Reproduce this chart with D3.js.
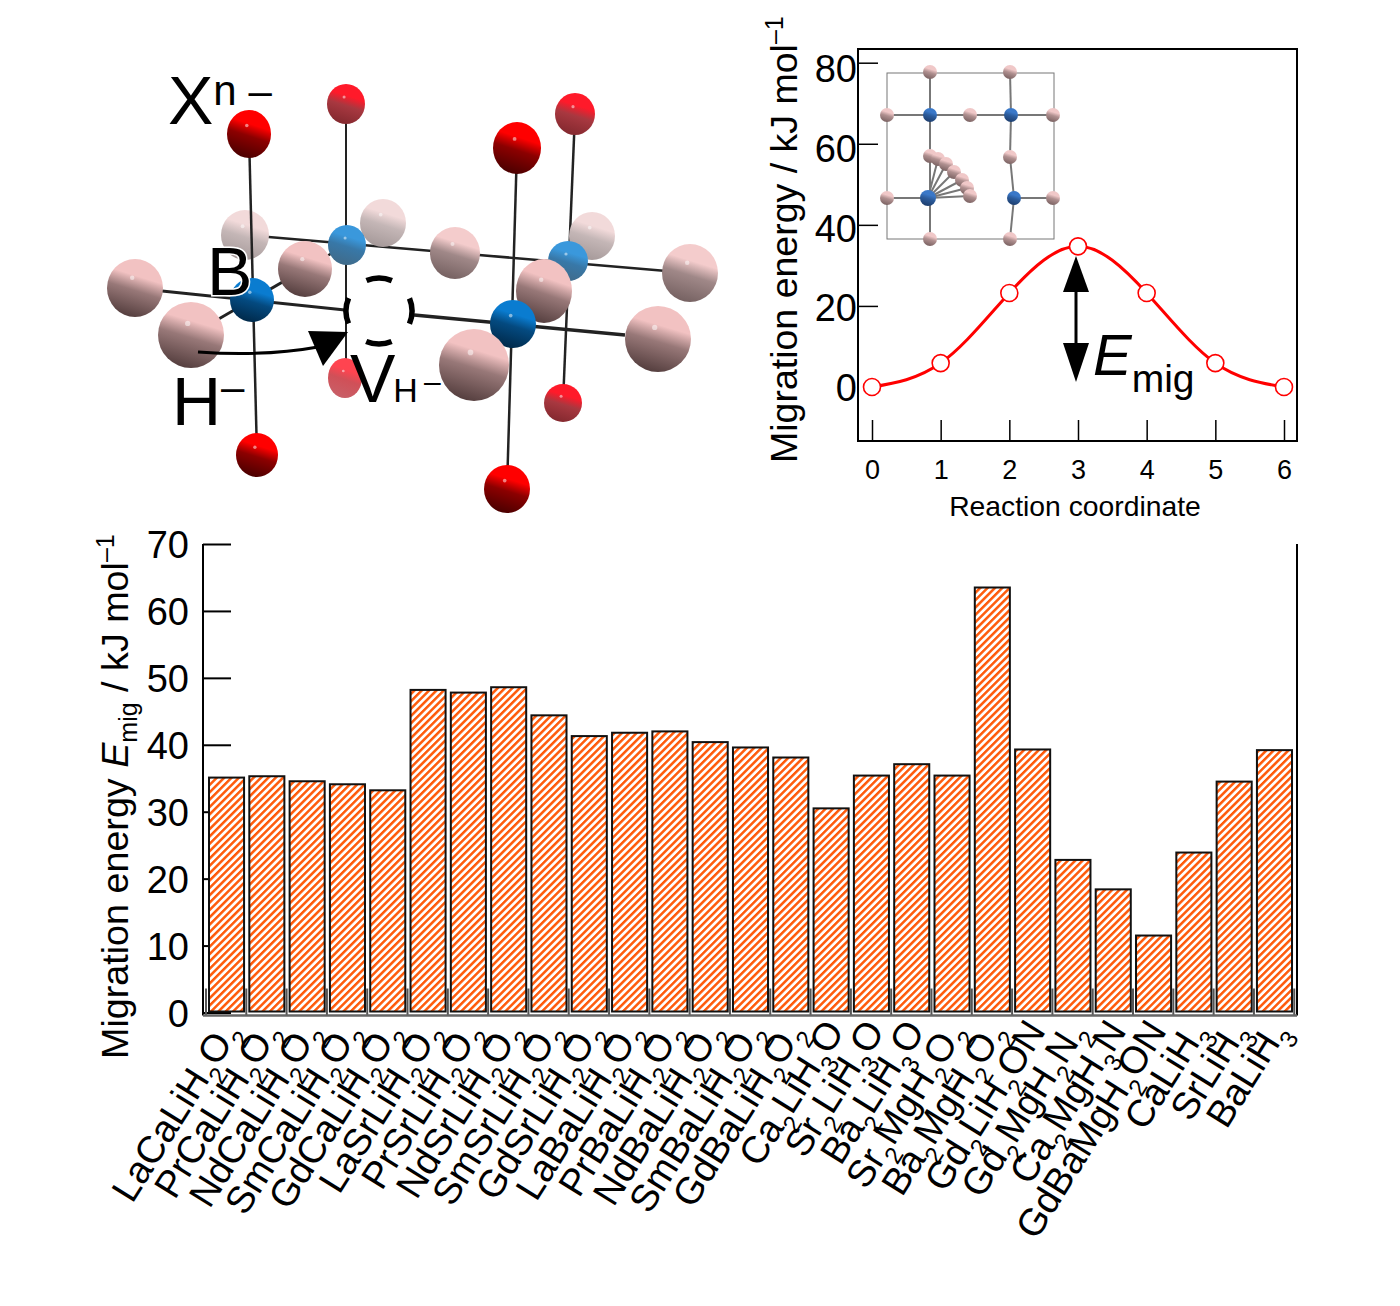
<!doctype html>
<html>
<head>
<meta charset="utf-8">
<title>Hydride migration energy</title>
<script src="https://d3js.org/d3.v7.min.js"></script>
<style>
  html, body { margin: 0; background: #fff; }
  svg { display: block; }
  text { font-family: "Liberation Sans", Arial, sans-serif; fill: #000; }
</style>
</head>
<body>
<div id="vis"></div>
<script>
// bar chart data
var compounds = ["LaCaLiH2O2","PrCaLiH2O2","NdCaLiH2O2","SmCaLiH2O2","GdCaLiH2O2",
  "LaSrLiH2O2","PrSrLiH2O2","NdSrLiH2O2","SmSrLiH2O2","GdSrLiH2O2",
  "LaBaLiH2O2","PrBaLiH2O2","NdBaLiH2O2","SmBaLiH2O2","GdBaLiH2O2",
  "Ca2LiH3O","Sr2LiH3O","Ba2LiH3O","Sr2MgH2O2","Ba2MgH2O2","Gd2LiH2ON",
  "Gd2MgH2N2","Ca2MgH3N","GdBaMgH2ON","CaLiH3","SrLiH3","BaLiH3"];
var migrationEnergy = [35.1,35.3,34.55,34.1,33.2,48.2,47.8,48.6,44.4,41.3,41.8,42,40.4,39.6,38.1,
  30.5,35.4,37.1,35.4,63.5,39.3,22.8,18.4,11.5,23.9,34.5,39.2];
var barTicks = [0,10,20,30,40,50,60,70];

// energy profile data
var reactionCoord = [0,1,2,3,4,5,6];
var profileEnergy = [0,5.9,23.2,34.7,23.2,5.9,0];
var profileTicks = [0,20,40,60,80];

var svg = d3.select("#vis").append("svg").attr("width", 1400).attr("height", 1306);
svg.append("rect").attr("width", 1400).attr("height", 1306).attr("fill", "#fff");
var defs = svg.append("defs");

defs.append("pattern").attr("id", "hatch").attr("patternUnits", "userSpaceOnUse")
  .attr("width", 5.2).attr("height", 5.2).attr("patternTransform", "rotate(-45)")
  .call(function(p) {
    p.append("rect").attr("width", 5.2).attr("height", 5.2).attr("fill", "#fff");
    p.append("rect").attr("width", 5.2).attr("height", 2.5).attr("fill", "#ff5a0a");
  });

function sphereGrad(id, c1, c2, c3) {
  var g = defs.append("linearGradient").attr("id", id)
    .attr("x1", 0.65).attr("y1", 0).attr("x2", 0.35).attr("y2", 1);
  g.append("stop").attr("offset", "0%").attr("stop-color", c1);
  g.append("stop").attr("offset", "30%").attr("stop-color", c1);
  g.append("stop").attr("offset", "54%").attr("stop-color", c2);
  g.append("stop").attr("offset", "100%").attr("stop-color", c3);
}
sphereGrad("red", "#ff0000", "#8c0000", "#480000");
sphereGrad("redFog", "#ff1a2a", "#a83840", "#82282e");
sphereGrad("redFog2", "#ff4450", "#d05058", "#c86068");
sphereGrad("pink", "#f2c2c2", "#987878", "#523c3c");
sphereGrad("pinkMid", "#f4cccc", "#a08888", "#746060");
sphereGrad("pinkFog", "#f2dada", "#c4b6b6", "#a49898");
sphereGrad("blue", "#0a7cd0", "#044a80", "#002848");
sphereGrad("blueFog", "#3a98dc", "#3878a8", "#406a88");
sphereGrad("blueInset", "#3a78c8", "#2c5c9c", "#1c3c6c");
sphereGrad("pinkInset", "#f0c8c8", "#b09090", "#786060");

// text with digits lowered as subscripts
function formula(sel, str, size) {
  str.split(/(\d)/).forEach(function(part, i, parts) {
    if (!part) return;
    if (/\d/.test(part)) {
      sel.append("tspan").attr("dy", size * 0.34).attr("font-size", size * 0.64).text(part);
    } else {
      var t = sel.append("tspan").text(part);
      if (i > 0 && parts[i - 1]) t.attr("dy", -size * 0.34);
    }
  });
}

// ---- bar chart ----
var barLeft = 203, barRight = 1297, barZero = 1012.5, barTop = 544;
var xBar = d3.scaleBand().domain(compounds).range([209, 1292]).paddingInner(0.13);
var yBar = d3.scaleLinear().domain([0, 70]).range([barZero, barTop]);
var step = xBar.step();

var yAxisBar = svg.append("g").attr("transform", "translate(" + barLeft + ",0)")
  .call(d3.axisLeft(yBar).tickValues(barTicks).tickSize(-28).tickPadding(14));
yAxisBar.selectAll("text").attr("font-size", 38).attr("font-family", "Liberation Sans").attr("fill", "#000").attr("dy", "0.36em");
yAxisBar.selectAll("line").attr("stroke", "#000").attr("stroke-width", 2);
yAxisBar.select(".domain").attr("d", "M0," + barTop + "V" + (barZero + 3)).attr("stroke", "#000").attr("stroke-width", 2);

svg.append("line").attr("x1", barRight).attr("x2", barRight).attr("y1", barTop).attr("y2", barZero + 3)
  .attr("stroke", "#000").attr("stroke-width", 2);

// boundary ticks sit in the gaps between the bars
var boundaries = d3.range(compounds.length + 1);
svg.selectAll(".bt").data(boundaries).enter().append("line")
  .attr("x1", function(i) { return 206 + i * step; })
  .attr("x2", function(i) { return 206 + i * step; })
  .attr("y1", barZero - 24).attr("y2", barZero + 3)
  .attr("stroke", "#555").attr("stroke-width", 2);
svg.append("line").attr("x1", barLeft).attr("x2", barRight).attr("y1", barZero + 3).attr("y2", barZero + 3)
  .attr("stroke", "#666").attr("stroke-width", 2.5);

svg.selectAll(".bar").data(migrationEnergy).enter().append("rect")
  .attr("class", "bar")
  .attr("x", function(d, i) { return xBar(compounds[i]); })
  .attr("width", xBar.bandwidth())
  .attr("y", function(d) { return yBar(d); })
  .attr("height", function(d) { return barZero - yBar(d) - 1; })
  .attr("fill", "url(#hatch)")
  .attr("stroke", "#111").attr("stroke-width", 2);

compounds.forEach(function(c) {
  var px = xBar(c) + xBar.bandwidth() / 2 + 14;
  var t = svg.append("text")
    .attr("transform", "translate(" + px + ",1031) rotate(-58)")
    .attr("text-anchor", "end").attr("font-size", 38);
  formula(t, c, 38);
});

var yTitle = svg.append("text")
  .attr("transform", "translate(128,1059) rotate(-90)")
  .attr("font-size", 37.7);
yTitle.append("tspan").text("Migration energy ");
yTitle.append("tspan").attr("font-style", "italic").text("E");
yTitle.append("tspan").attr("font-size", 25).attr("dy", 9).text("mig");
yTitle.append("tspan").attr("dy", -9).text(" / kJ mol");
yTitle.append("tspan").attr("font-size", 25).attr("dy", -14).text("–1");

// ---- energy profile ----
var frame = {left: 858, right: 1297, top: 49, bottom: 441};
var xProf = d3.scaleLinear().domain([0, 6]).range([872, 1284]);
var yProf = d3.scaleLinear().domain([0, 80]).range([387, 62.7]);
// the tick numbers in the reference run on a slightly tighter spacing than the ticks
var yProfLabel = d3.scaleLinear().domain([0, 80]).range([387, 68]);

var xAxisProf = svg.append("g").attr("transform", "translate(0," + frame.bottom + ")")
  .call(d3.axisBottom(xProf).tickValues(reactionCoord).tickSize(-21).tickPadding(16).tickFormat(d3.format("d")));
xAxisProf.selectAll("text").attr("font-size", 27).attr("font-family", "Liberation Sans").attr("fill", "#000").attr("dy", "0.8em");
xAxisProf.selectAll("line").attr("stroke", "#000").attr("stroke-width", 1.5);
xAxisProf.select(".domain").remove();

var yAxisProf = svg.append("g").attr("transform", "translate(" + frame.left + ",0)")
  .call(d3.axisLeft(yProf).tickValues(profileTicks).tickSize(-20).tickPadding(1));
yAxisProf.selectAll("text").attr("font-size", 38).attr("font-family", "Liberation Sans").attr("fill", "#000").attr("dy", "0.36em")
  .attr("y", function(d) { return yProfLabel(d) - yProf(d); });
yAxisProf.selectAll("line").attr("stroke", "#000").attr("stroke-width", 1.5);
yAxisProf.select(".domain").remove();
// no inner tick at zero in the reference
yAxisProf.selectAll(".tick").filter(function(d) { return d === 0; }).select("line").remove();

svg.append("rect").attr("x", frame.left).attr("y", frame.top)
  .attr("width", frame.right - frame.left).attr("height", frame.bottom - frame.top)
  .attr("fill", "none").attr("stroke", "#000").attr("stroke-width", 2);

svg.append("text").attr("x", 1075).attr("y", 516).attr("text-anchor", "middle")
  .attr("font-size", 28.3).text("Reaction coordinate");

var yTitle2 = svg.append("text")
  .attr("transform", "translate(797,463) rotate(-90)")
  .attr("font-size", 37.5);
yTitle2.append("tspan").text("Migration energy / kJ mol");
yTitle2.append("tspan").attr("font-size", 25).attr("dy", -14).text("–1");

// inset: hop path in the plane, pixel layout of the drawing
var insetBox = {x: 887, y: 73, w: 167, h: 166};
var insetBonds = [[930,72,930,239],[1010,72,1011,115],[1011,115,1010,157],[1010,157,1014,198],[1014,198,1010,239],
  [887,115,1053,115],[887,198,928,198],[1014,198,1053,198],
  [928,198,938,159],[928,198,946,164],[928,198,954,172],[928,198,962,180],[928,198,967,188],[928,198,970,196]];
var insetPink = [[930,72],[1010,72],[887,115],[970,115],[1053,115],[1010,157],[887,198],[1053,198],[930,239],[1010,239],
  [930,156],[938,159],[946,164],[954,172],[962,180],[967,188],[970,196]];
var insetBlue = [[930,115],[1011,115],[928,198],[1014,198]];

svg.append("rect").attr("x", insetBox.x).attr("y", insetBox.y).attr("width", insetBox.w).attr("height", insetBox.h)
  .attr("fill", "none").attr("stroke", "#777").attr("stroke-width", 1);
svg.selectAll(".ib").data(insetBonds).enter().append("line")
  .attr("x1", function(d) { return d[0]; }).attr("y1", function(d) { return d[1]; })
  .attr("x2", function(d) { return d[2]; }).attr("y2", function(d) { return d[3]; })
  .attr("stroke", "#777").attr("stroke-width", 2);
svg.selectAll(".ip").data(insetPink).enter().append("circle")
  .attr("cx", function(d) { return d[0]; }).attr("cy", function(d) { return d[1]; })
  .attr("r", 7).attr("fill", "url(#pinkInset)");
svg.selectAll(".ibl").data(insetBlue).enter().append("circle")
  .attr("cx", function(d) { return d[0]; }).attr("cy", function(d) { return d[1]; })
  .attr("r", function(d, i) { return i === 2 ? 8 : 7; }).attr("fill", "url(#blueInset)");

// profile curve and points
var line = d3.line()
  .x(function(d, i) { return xProf(reactionCoord[i]); })
  .y(function(d) { return yProf(d); })
  .curve(d3.curveNatural);
svg.append("path").attr("d", line(profileEnergy)).attr("fill", "none").attr("stroke", "#f00").attr("stroke-width", 3);
svg.selectAll(".pt").data(profileEnergy).enter().append("circle")
  .attr("cx", function(d, i) { return xProf(reactionCoord[i]); })
  .attr("cy", function(d) { return yProf(d); })
  .attr("r", 8.5).attr("fill", "#fff").attr("stroke", "#f00").attr("stroke-width", 1.6);

// E_mig arrow
var ax = xProf(3) - 2;
svg.append("line").attr("x1", ax).attr("x2", ax).attr("y1", 285).attr("y2", 350).attr("stroke", "#000").attr("stroke-width", 3);
svg.append("path").attr("d", "M" + ax + ",256L" + (ax + 13) + ",292H" + (ax - 13) + "Z").attr("fill", "#000");
svg.append("path").attr("d", "M" + ax + ",382L" + (ax + 13) + ",343H" + (ax - 13) + "Z").attr("fill", "#000");
var eMig = svg.append("text").attr("x", 1093).attr("y", 375).attr("font-size", 58);
eMig.append("tspan").attr("font-style", "italic").text("E");
eMig.append("tspan").attr("font-size", 39).attr("dy", 17).text("mig");

// ---- crystal structure drawing ----
var bondsBack = [[245,235,690,273,2.5],[346,104,346,378,2],[575,114,563,403,2.5],[305,269,383,223,2.5],[544,291,592,236,2.5]];
var atomsBack = [
  [345,378,17,20,"redFog2"],[346,104,19,20,"redFog"],[575,114,20,21,"redFog"],[563,403,19,19,"redFog"],
  [245,235,24,25,"pinkFog"],[383,223,23,24,"pinkFog"],[455,253,25,26,"pinkMid"],[592,236,23,24,"pinkFog"],[690,273,28,29,"pinkMid"],
  [347,245,19,20,"blueFog"],[568,261,20,20,"blueFog"]
];
var bondsFront = [[249,134,257,455,2.5],[517,148,507,489,2.5],[162,291,345,310,3],[414,315,625,335,3.5],
  [191,335,305,269,3],[474,365,544,291,3]];
var atomsFront = [
  [135,288,28,29,"pink"],[305,269,27,28,"pink"],[249,134,22,24,"red"],[517,148,24,26,"red"],
  [257,455,21,22,"red"],[507,489,23,24,"red"],
  [191,335,33,33,"pink"],[252,300,22,22,"blue"],
  [544,291,28,32,"pink"],[513,324,23,24,"blue"],[658,339,33,33,"pink"],[474,365,35,36,"pink"]
];
function drawBonds(data) {
  svg.append("g").selectAll("line").data(data).enter().append("line")
    .attr("x1", function(d) { return d[0]; }).attr("y1", function(d) { return d[1]; })
    .attr("x2", function(d) { return d[2]; }).attr("y2", function(d) { return d[3]; })
    .attr("stroke", "#222").attr("stroke-width", function(d) { return d[4]; });
}
function drawAtoms(data) {
  var g = svg.append("g").selectAll("g").data(data).enter().append("g");
  g.append("ellipse")
    .attr("cx", function(d) { return d[0]; }).attr("cy", function(d) { return d[1]; })
    .attr("rx", function(d) { return d[2]; }).attr("ry", function(d) { return d[3]; })
    .attr("fill", function(d) { return "url(#" + d[4] + ")"; });
  g.append("circle")
    .attr("cx", function(d) { return d[0] - d[2] * 0.1; }).attr("cy", function(d) { return d[1] - d[3] * 0.35; })
    .attr("r", function(d) { return Math.max(1.2, d[2] * 0.08); })
    .attr("fill", "#fff").attr("opacity", 0.5);
}
drawBonds(bondsBack);
drawAtoms(atomsBack);
drawBonds(bondsFront);
drawAtoms(atomsFront);

// vacancy and hop arrow
svg.append("circle").attr("cx", 379).attr("cy", 311).attr("r", 33).attr("fill", "#fff")
  .attr("stroke", "#000").attr("stroke-width", 5.5).attr("stroke-dasharray", "26 25.8").attr("transform", "rotate(-22.5 379 311)");
svg.append("path").attr("d", "M198,352C240,355 285,353 318,347").attr("fill", "none").attr("stroke", "#000").attr("stroke-width", 3);
svg.append("path").attr("d", "M348,332L308,331L323,366Z").attr("fill", "#000");

// labels
var xl = svg.append("text").attr("x", 168).attr("y", 124).attr("font-size", 68).text("X");
xl.append("tspan").attr("font-size", 42).attr("dy", -19).text("n –");
svg.append("text").attr("x", 207).attr("y", 295).attr("font-size", 68)
  .attr("stroke", "#fff").attr("stroke-width", 3).attr("paint-order", "stroke").text("B");
var hl = svg.append("text").attr("x", 172).attr("y", 425).attr("font-size", 68).text("H");
hl.append("tspan").attr("font-size", 42).attr("dy", -24).text("–");
var vl = svg.append("text").attr("x", 350).attr("y", 402).attr("font-size", 68).text("V");
vl.append("tspan").attr("font-size", 34).attr("dx", -2).text("H");
vl.append("tspan").attr("font-size", 30).attr("dx", 6).attr("dy", -10).text("–");
</script>
</body>
</html>
